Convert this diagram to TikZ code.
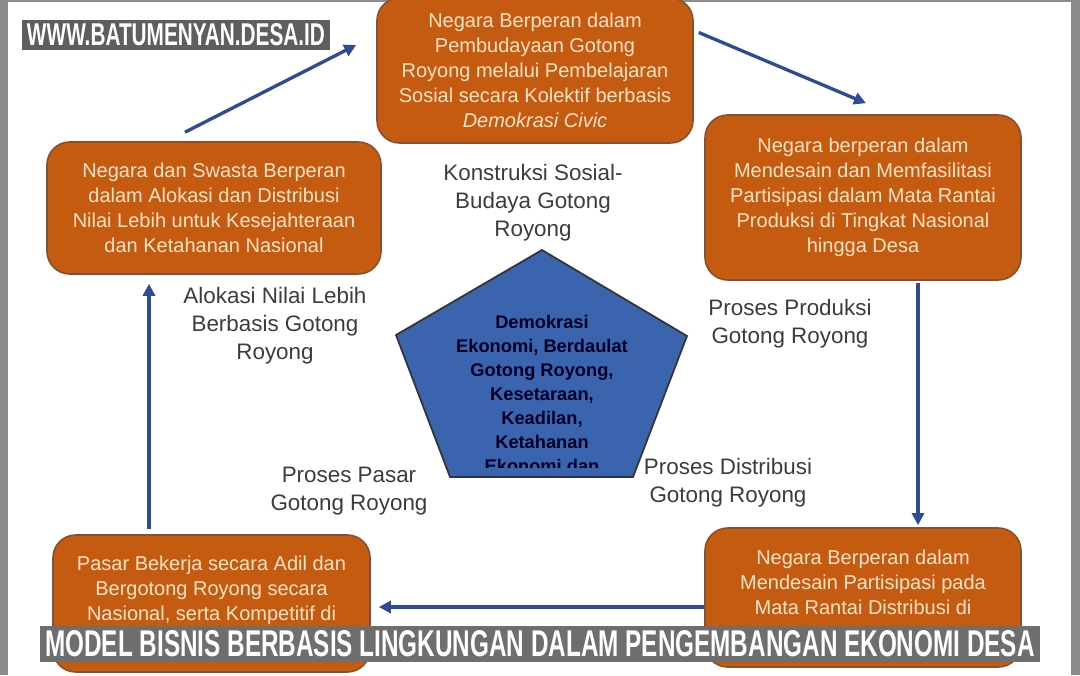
\documentclass[tikz,border=0pt]{standalone}
\usepackage{fontspec}
\setmainfont{Liberation Sans}
\usepackage{graphicx}
\usetikzlibrary{arrows.meta}

\definecolor{oranye}{HTML}{C55A11}
\definecolor{tepioranye}{HTML}{845230}
\definecolor{krem}{HTML}{FBE4C6}
\definecolor{biru}{HTML}{2E4B93}
\definecolor{birupenta}{HTML}{3A64AE}
\definecolor{abutulisan}{HTML}{3C3C3C}
\definecolor{bingkai}{HTML}{8C8C8C}
\definecolor{abuwm}{HTML}{5E5E5E}
\definecolor{abujudul}{HTML}{6E6E6E}

\begin{document}
\begin{tikzpicture}[x=0.75pt, y=-0.75pt,
    kotak/.style={draw=tepioranye, line width=1.2pt, fill=oranye, rounded corners=17pt,
        text=krem, align=center, font=\fontsize{15}{18.75}\selectfont},
    teks/.style={text=krem, align=center, inner sep=0pt, font=\fontsize{15}{18.75}\selectfont},
    keterangan/.style={text=abutulisan, align=center, font=\fontsize{16.8}{21}\selectfont},
    inti/.style={text=black!85!blue, align=center, font=\fontsize{13.7}{18}\selectfont\bfseries},
    panah/.style={draw=biru, line width=2.5pt, -{Triangle[length=9pt,width=9pt]}}]
    \useasboundingbox (0,0) rectangle (1080,675);

    % Bingkai
    \fill[bingkai] (0,0) rectangle (8,675);
    \fill[bingkai] (1071,0) rectangle (1080,675);
    \fill[bingkai] (0,0) rectangle (1080,2);

    % Kotak oranye
    \node[kotak, minimum width=237pt, minimum height=108.75pt] (negara) at (535,70.5)
        {Negara Berperan dalam\\Pembudayaan Gotong\\Royong melalui Pembelajaran\\Sosial secara Kolektif berbasis\\\textit{Demokrasi Civic}};
    \node[kotak, minimum width=250.5pt, minimum height=99pt] (alokasi) at (214,208)
        {Negara dan Swasta Berperan\\dalam Alokasi dan Distribusi\\Nilai Lebih untuk Kesejahteraan\\dan Ketahanan Nasional};
    \node[kotak, minimum width=237pt, minimum height=123.75pt] (produksi) at (863,197.5)
        {Negara berperan dalam\\Mendesain dan Memfasilitasi\\Partisipasi dalam Mata Rantai\\Produksi di Tingkat Nasional\\hingga Desa};
    \node[kotak, minimum width=237.75pt, minimum height=102.75pt] (pasar) at (211.5,603.5) {};
    \node[teks, anchor=north] (pasarteks) at ([yshift=-16.5pt]pasar.north)
        {Pasar Bekerja secara Adil dan\\Bergotong Royong secara\\Nasional, serta Kompetitif di};
    \node[kotak, minimum width=237pt, minimum height=104.25pt] (distribusi) at (863,597.5) {};
    \node[teks, anchor=north] (distribusiteks) at ([yshift=-17pt]distribusi.north)
        {Negara Berperan dalam\\Mendesain Partisipasi pada\\Mata Rantai Distribusi di};

    % Segi lima
    \draw[fill=birupenta, draw=black!80, line width=1.3pt]
        (542,250) -- (687,336) -- (633,477) -- (450,477) -- (396,335) -- cycle;
    \begin{scope}
        \clip (542,252) -- (685,337) -- (632,467) -- (451,467) -- (398,336) -- cycle;
        \node[inti] (nilai) at (542,394) {Demokrasi\\Ekonomi, Berdaulat\\Gotong Royong,\\Kesetaraan,\\Keadilan,\\Ketahanan\\Ekonomi dan};
    \end{scope}

    % Keterangan
    \node[keterangan] (konstruksi) at (533,203) {Konstruksi Sosial-\\Budaya Gotong\\Royong};
    \node[keterangan] (ketalokasi) at (275,326) {Alokasi Nilai Lebih\\Berbasis Gotong\\Royong};
    \node[keterangan] (ketproduksi) at (790,324) {Proses Produksi\\Gotong Royong};
    \node[keterangan] (ketpasar) at (349,491) {Proses Pasar\\Gotong Royong};
    \node[keterangan] (ketdistribusi) at (728,483) {Proses Distribusi\\Gotong Royong};

    % Panah
    \draw[panah] ([shift={(-29,-9)}]alokasi.north) -- ([shift={(-20,-25.5)}]negara.west);
    \draw[panah] ([shift={(5,-38)}]negara.east) -- ([shift={(3,-11)}]produksi.north);
    \draw[panah] ([shift={(55,2)}]produksi.south) -- ([shift={(55,-2)}]distribusi.north);
    \draw[panah] ([shift={(0,9.5)}]distribusi.west) -- ([shift={(8,3.5)}]pasar.east);
    \draw[panah] ([shift={(-62.5,-5)}]pasar.north) -- ([shift={(-65,9)}]alokasi.south);

    % Tanda air dan judul
    \node[fill=abuwm, text=white, inner sep=0pt, minimum width=231pt, minimum height=22.5pt] (situs) at (176,35)
        {\resizebox{223.5pt}{16.5pt}{\bfseries WWW.BATUMENYAN.DESA.ID}};
    \node[fill=abujudul, text=white, inner sep=0pt, minimum width=750pt, minimum height=27pt] (judul) at (540,644)
        {\resizebox{742pt}{19.5pt}{\bfseries MODEL BISNIS BERBASIS LINGKUNGAN DALAM PENGEMBANGAN EKONOMI DESA}};
\end{tikzpicture}
\end{document}
